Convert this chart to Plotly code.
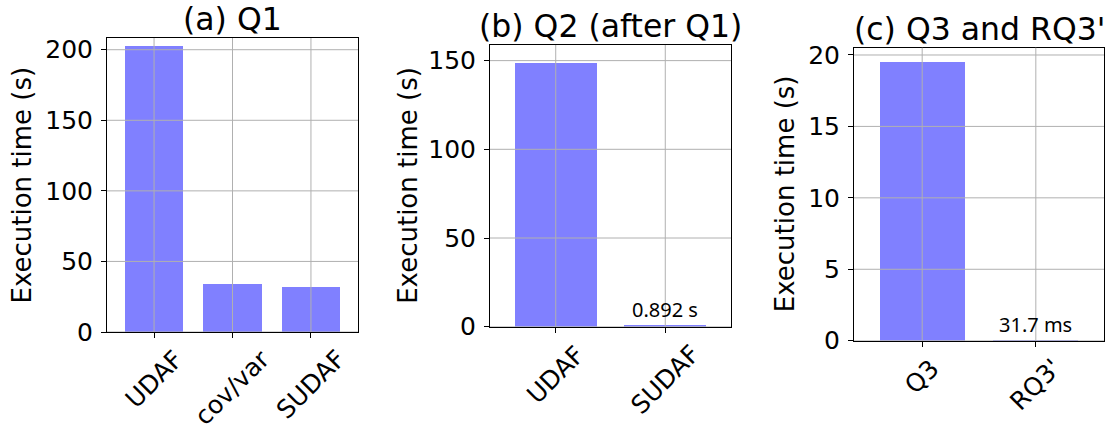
import plotly.graph_objects as go

# ---------------- data ----------------
q1_labels = ["UDAF", "cov/var", "SUDAF"]
q1_times = [202.9, 34.0, 31.9]

q2_labels = ["UDAF", "SUDAF"]
q2_times = [148.7, 0.892]

q3_labels = ["Q3", "RQ3'"]
q3_times = [19.5, 0.0317]

q1_ticks = [0, 50, 100, 150, 200]
q2_ticks = [0, 50, 100, 150]
q3_ticks = [0, 5, 10, 15, 20]

titles = ["(a) Q1", "(b) Q2 (after Q1)", "(c) Q3 and RQ3'"]
ylabel = "Execution time (s)"

# value annotations (only for the tiny bars)
q2_notes = ["", f"{q2_times[1]:.3f} s"]
q3_notes = ["", f"{q3_times[1] * 1000:.1f} ms"]

# ---------------- layout helpers ----------------
W, H = 1110, 427
def fx(px):
    return px / W
def fy(py):
    return 1 - py / H

panels = [
    dict(labels=q1_labels, vals=q1_times, ticks=q1_ticks, notes=None,
         box=(107, 358, 38, 332), yrange=[0, 208.3], ylab_x=21.5),
    dict(labels=q2_labels, vals=q2_times, ticks=q2_ticks, notes=q2_notes,
         box=(490, 731, 45, 326.7), yrange=[0, 158.8], ylab_x=408),
    dict(labels=q3_labels, vals=q3_times, ticks=q3_ticks, notes=q3_notes,
         box=(854, 1104, 47.7, 340.7), yrange=[0, 20.51], ylab_x=785),
]

BAR = "#8080ff"
GRID = "#b0b0b0"
FONT = "DejaVu Sans"

fig = go.Figure()
annotations = []
shapes = []
layout = {}

for i, p in enumerate(panels, start=1):
    xa = "x" if i == 1 else f"x{i}"
    ya = "y" if i == 1 else f"y{i}"
    xkey = "xaxis" if i == 1 else f"xaxis{i}"
    ykey = "yaxis" if i == 1 else f"yaxis{i}"
    l, r, t, b = p["box"]
    n = len(p["labels"])

    fig.add_trace(go.Bar(x=p["labels"], y=p["vals"], width=0.75,
                         marker=dict(color=BAR, line=dict(width=0)),
                         xaxis=xa, yaxis=ya, showlegend=False,
                         hoverinfo="x+y"))

    layout[xkey] = dict(domain=[fx(l), fx(r)], anchor=ya, type="category",
                        range=[-0.6, n - 1 + 0.6], showgrid=False,
                        zeroline=False, showline=True, mirror=True,
                        linecolor="black", linewidth=1, ticks="outside",
                        ticklen=5, tickwidth=1, tickcolor="black",
                        showticklabels=False, automargin=False,
                        fixedrange=True)
    layout[ykey] = dict(domain=[fy(b), fy(t)], anchor=xa,
                        range=p["yrange"], tickvals=p["ticks"],
                        showgrid=False, zeroline=False, showline=True,
                        mirror=True, linecolor="black", linewidth=1,
                        ticks="outside", ticklen=5, tickwidth=1,
                        tickcolor="black", automargin=False,
                        tickfont=dict(family=FONT, size=25, color="black"),
                        ticklabelstandoff=3, fixedrange=True)

    # grid lines drawn above the bars (matplotlib style)
    for tv in p["ticks"]:
        shapes.append(dict(type="line", layer="above", xref=f"{xa} domain",
                           x0=0, x1=1, yref=ya, y0=tv, y1=tv,
                           line=dict(color=GRID, width=1)))
    for lab in p["labels"]:
        shapes.append(dict(type="line", layer="above", xref=xa, x0=lab, x1=lab,
                           yref=f"{ya} domain", y0=0, y1=1,
                           line=dict(color=GRID, width=1)))

    # rotated x tick labels
    for lab in p["labels"]:
        annotations.append(dict(x=lab, xref=xa, y=0, yref=f"{ya} domain",
                                text=lab, showarrow=False, textangle=-45,
                                xanchor="center", yanchor="top", yshift=-10,
                                font=dict(family=FONT, size=25, color="black")))

    # value notes
    if p["notes"]:
        for lab, v, note in zip(p["labels"], p["vals"], p["notes"]):
            if note:
                annotations.append(dict(x=lab, xref=xa, y=v, yref=ya,
                                        text=note, showarrow=False,
                                        xanchor="center", yanchor="bottom",
                                        yshift=0,
                                        font=dict(family="Noto Sans", size=20,
                                                  color="black")))

    # panel title
    annotations.append(dict(x=fx((l + r) / 2), xref="paper", y=fy(t),
                            yref="paper", text=titles[i - 1], showarrow=False,
                            xanchor="center", yanchor="bottom", yshift=-1,
                            font=dict(family=FONT, size=31.5, color="black")))
    # y label
    annotations.append(dict(x=fx(p["ylab_x"]), xref="paper",
                            y=fy((t + b) / 2), yref="paper", text=ylabel,
                            showarrow=False, textangle=-90, xanchor="center",
                            yanchor="middle",
                            font=dict(family=FONT, size=26, color="black")))

fig.update_layout(width=W, height=H, margin=dict(l=0, r=0, t=0, b=0),
                  paper_bgcolor="white", plot_bgcolor="white",
                  annotations=annotations, shapes=shapes, bargap=0,
                  font=dict(family=FONT, color="black"), **layout)

fig.write_html(
    "out.html",
    config={"displayModeBar": False},
    post_script="document.body.style.margin='0';"
                "document.body.style.overflow='hidden';",
)
